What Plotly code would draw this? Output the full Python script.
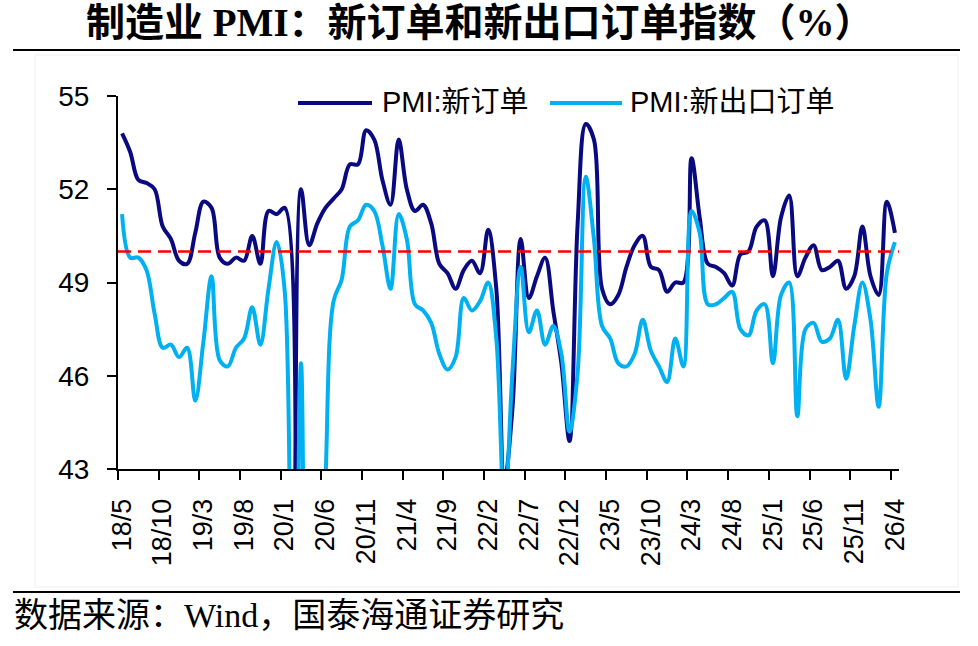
import plotly.graph_objects as go

# ---------------- data ----------------
YEARS_MONTHS = [(2018, m) for m in range(5, 13)] + \
               [(y, m) for y in range(2019, 2026) for m in range(1, 13)] + \
               [(2026, m) for m in range(1, 5)]
MONTHS = [f"{y % 100}/{m}" for y, m in YEARS_MONTHS]

NEW_ORDERS = [
    53.8, 53.2, 52.3, 52.2, 52.0, 50.8, 50.4, 49.7,                     # 2018
    49.6, 50.6, 51.6, 51.4, 49.8, 49.6, 49.8, 49.7, 50.5, 49.6, 51.3, 51.2,  # 2019
    51.4, 29.3, 52.0, 50.2, 50.9, 51.4, 51.7, 52.0, 52.8, 52.8, 53.9, 53.6,  # 2020
    52.3, 51.5, 53.6, 52.0, 51.3, 51.5, 50.9, 49.6, 49.3, 48.8, 49.4, 49.7,  # 2021
    49.3, 50.7, 48.8, 42.6, 45.0, 50.4, 48.5, 49.2, 49.8, 48.1, 46.4, 43.9,  # 2022
    50.9, 54.1, 53.6, 48.8, 48.3, 48.6, 49.5, 50.2, 50.5, 49.5, 49.4, 48.7,  # 2023
    49.0, 49.0, 53.0, 51.1, 49.6, 49.5, 49.3, 48.9, 49.9, 50.0, 50.8, 51.0,  # 2024
    49.2, 51.1, 51.8, 49.2, 49.8, 50.2, 49.4, 49.5, 49.7, 48.8, 49.2, 50.8,  # 2025
    49.2, 48.6, 51.6, 50.6,                                              # 2026
]

EXPORT_ORDERS = [
    51.2, 49.8, 49.8, 49.4, 48.0, 46.9, 47.0, 46.6,                     # 2018
    46.9, 45.2, 47.1, 49.2, 46.5, 46.3, 46.9, 47.2, 48.2, 47.0, 48.8, 50.3,  # 2019
    48.7, 28.7, 46.4, 33.5, 35.3, 42.6, 48.4, 49.1, 50.8, 51.0, 51.5, 51.3,  # 2020
    50.2, 48.8, 51.2, 50.4, 48.3, 48.1, 47.7, 46.7, 46.2, 46.6, 48.5, 48.1,  # 2021
    48.4, 49.0, 47.2, 41.6, 46.2, 49.5, 47.4, 48.1, 47.0, 47.6, 46.7, 44.2,  # 2022
    46.1, 52.4, 50.4, 47.6, 47.2, 46.4, 46.3, 46.7, 47.8, 46.8, 46.3, 45.8,  # 2023
    47.2, 46.3, 51.3, 50.6, 48.3, 48.3, 48.5, 48.7, 47.5, 47.3, 48.1, 48.3,  # 2024
    46.4, 48.6, 49.0, 44.7, 47.5, 47.7, 47.1, 47.2, 47.8, 45.9, 47.6, 49.0,  # 2025
    47.8, 45.0, 49.3, 50.3,                                              # 2026
]

THRESHOLD = 50
Y_TICKS = [43, 46, 49, 52, 55]
TICK_LABELS = ["18/5", "18/10", "19/3", "19/8", "20/1", "20/6", "20/11", "21/4",
               "21/9", "22/2", "22/7", "22/12", "23/5", "23/10", "24/3", "24/8",
               "25/1", "25/6", "25/11", "26/4"]
SERIES_NAMES = ["PMI:新订单", "PMI:新出口订单"]
TITLE = "制造业 PMI：新订单和新出口订单指数（%）"
SOURCE = "数据来源：Wind，国泰海通证券研究"

# ---------------- layout helpers ----------------
W, H = 978, 646
ML, MR, MT, MB = 118, 79, 96, 177   # plot area in page pixels
PW = W - ML - MR
PH = H - MT - MB


def px(x):
    return (x - ML) / PW


def py(y):
    return (H - MB - y) / PH


DARK = "#0a0a80"
LIGHT = "#00b0f0"
SANS = "Liberation Sans, Arial, Noto Sans CJK SC"
SERIF = "Liberation Serif, Times New Roman, Noto Sans CJK SC"

x_idx = list(range(len(MONTHS)))
label_pos = [MONTHS.index(t) for t in TICK_LABELS]

fig = go.Figure()
fig.add_trace(go.Scatter(
    x=x_idx, y=NEW_ORDERS, mode="lines", name=SERIES_NAMES[0],
    line=dict(color=DARK, width=4, shape="spline", smoothing=1),
    text=MONTHS, hovertemplate="%{text}: %{y}<extra>" + SERIES_NAMES[0] + "</extra>",
))
fig.add_trace(go.Scatter(
    x=x_idx, y=EXPORT_ORDERS, mode="lines", name=SERIES_NAMES[1],
    line=dict(color=LIGHT, width=4, shape="spline", smoothing=1),
    text=MONTHS, hovertemplate="%{text}: %{y}<extra>" + SERIES_NAMES[1] + "</extra>",
))

shapes = [
    # threshold line at 50
    dict(type="line", xref="paper", yref="y", x0=0, x1=1, y0=THRESHOLD, y1=THRESHOLD,
         line=dict(color="#ff0000", width=2.5, dash="13px,7px"), layer="above"),
    # faint chart frame
    dict(type="rect", xref="paper", yref="paper", x0=px(35), x1=px(958), y0=py(587), y1=py(55),
         line=dict(color="#eeeeee", width=1), layer="below"),
    # separators
    dict(type="line", xref="paper", yref="paper", x0=px(13), x1=px(960), y0=py(50), y1=py(50),
         line=dict(color="#000000", width=2)),
    dict(type="line", xref="paper", yref="paper", x0=px(13), x1=px(960), y0=py(592), y1=py(592),
         line=dict(color="#000000", width=2)),
    # legend swatches
    dict(type="line", xref="paper", yref="paper", x0=px(298), x1=px(372), y0=py(103), y1=py(103),
         line=dict(color=DARK, width=4)),
    dict(type="line", xref="paper", yref="paper", x0=px(550), x1=px(622), y0=py(103), y1=py(103),
         line=dict(color=LIGHT, width=4)),
]

annotations = [
    dict(text="<b>" + TITLE + "</b>", xref="paper", yref="paper", x=px(480), y=py(-1),
         xanchor="center", yanchor="top", showarrow=False,
         font=dict(family=SERIF, size=39, color="#000000")),
    dict(text=SOURCE, xref="paper", yref="paper", x=px(12), y=py(615),
         xanchor="left", yanchor="middle", showarrow=False,
         font=dict(family=SERIF, size=34, color="#000000")),
    dict(text=SERIES_NAMES[0], xref="paper", yref="paper", x=px(380), y=py(102),
         xanchor="left", yanchor="middle", showarrow=False,
         font=dict(family=SANS, size=29, color="#000000")),
    dict(text=SERIES_NAMES[1], xref="paper", yref="paper", x=px(628), y=py(102),
         xanchor="left", yanchor="middle", showarrow=False,
         font=dict(family=SANS, size=29, color="#000000")),
]

fig.update_layout(
    width=W, height=H,
    margin=dict(l=ML, r=MR, t=MT, b=MB, pad=0),
    paper_bgcolor="#ffffff", plot_bgcolor="#ffffff",
    showlegend=False,
    shapes=shapes, annotations=annotations,
    xaxis=dict(
        range=[-0.5, len(MONTHS) - 0.5],
        tickmode="array",
        tickvals=[p - 0.5 for p in label_pos],
        ticktext=TICK_LABELS,
        tickangle=-90,
        ticks="outside", ticklen=9, tickwidth=2, tickcolor="#000000",
        ticklabelshift=4, ticklabelstandoff=8,
        showline=True, linewidth=2, linecolor="#000000",
        showgrid=False, zeroline=False,
        tickfont=dict(family=SANS, size=27, color="#000000"),
        fixedrange=True,
    ),
    yaxis=dict(
        range=[43, 55],
        tickmode="array", tickvals=Y_TICKS,
        ticks="outside", ticklen=9, tickwidth=2, tickcolor="#000000",
        ticklabelstandoff=12,
        showline=True, linewidth=2, linecolor="#000000",
        showgrid=False, zeroline=False,
        tickfont=dict(family=SANS, size=28, color="#000000"),
        fixedrange=True,
    ),
)

fig.write_html(
    "out.html",
    config={"displayModeBar": False},
    post_script="document.body.style.margin='0';document.body.style.padding='0';",
)
